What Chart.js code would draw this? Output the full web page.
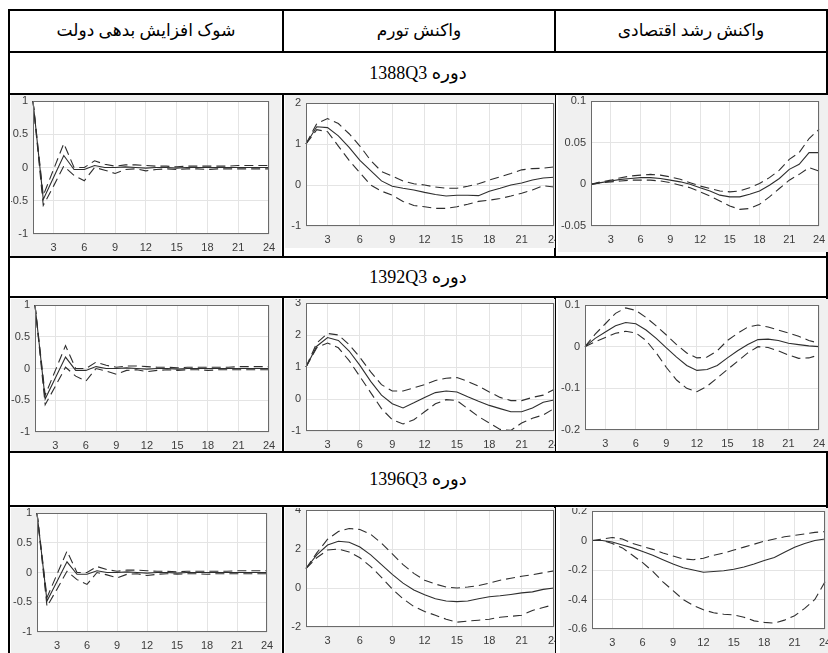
<!DOCTYPE html>
<html>
<head>
<meta charset="utf-8">
<script src="https://cdn.jsdelivr.net/npm/chart.js@4.4.1/dist/chart.umd.min.js"></script>
<style>
  html, body { margin:0; padding:0; background:#fff; }
  #page { position:relative; width:828px; height:653px; overflow:hidden; background:#fff; }
  .hl { position:absolute; height:2px; background:#000; }
  .vl { position:absolute; width:2px; background:#000; }
  .txt { position:absolute; text-align:center; font-family:"Liberation Serif","DejaVu Sans",serif; font-size:17px; color:#000; white-space:nowrap; }
  canvas { display:block; }
</style>
</head>
<body>
<div id="page"></div>
<script>
// ---------- data ----------
const horizon = [1,2,3,4,5,6,7,8,9,10,11,12,13,14,15,16,17,18,19,20,21,22,23,24];
const xTicks = [3,6,9,12,15,18,21,24];
const columnHeaders = ['شوک افزایش بدهی دولت', 'واکنش تورم', 'واکنش رشد اقتصادی'];
const periodLabels = ['1388Q3', '1392Q3', '1396Q3'];
const periodWord = 'دوره';

// debt shock (same in all periods)
const debtTicks = [-1, -0.5, 0, 0.5, 1];
const debtMedian = [1, -0.48, -0.15, 0.18, -0.03, -0.03, 0.03, 0.0, 0.0, 0.01, 0.0, -0.01, 0.0, 0.0, -0.01, 0.0, 0.0, 0.0, 0.0, 0.0, 0.0, 0.0, 0.0, 0.0];
const debtUpper  = [1, -0.42, -0.03, 0.36, 0.0, 0.0, 0.1, 0.05, 0.02, 0.04, 0.04, 0.03, 0.02, 0.02, 0.01, 0.02, 0.02, 0.02, 0.02, 0.02, 0.03, 0.03, 0.03, 0.03];
const debtLower  = [1, -0.57, -0.28, 0.02, -0.12, -0.2, 0.0, -0.04, -0.09, -0.03, -0.02, -0.05, -0.03, -0.02, -0.03, -0.02, -0.02, -0.03, -0.02, -0.02, -0.02, -0.02, -0.02, -0.02];

// inflation 1388Q3
const infl1388Ticks = [-1, 0, 1, 2];
const infl1388Median = [1.0, 1.42, 1.4, 1.2, 0.92, 0.6, 0.35, 0.1, -0.03, -0.08, -0.12, -0.18, -0.23, -0.27, -0.25, -0.25, -0.26, -0.15, -0.08, 0.0, 0.05, 0.12, 0.17, 0.19];
const infl1388Upper  = [1.0, 1.5, 1.62, 1.5, 1.25, 0.95, 0.6, 0.33, 0.22, 0.1, 0.03, 0.0, -0.05, -0.08, -0.08, -0.03, 0.03, 0.12, 0.2, 0.28, 0.37, 0.4, 0.41, 0.44];
const infl1388Lower  = [1.0, 1.35, 1.3, 0.95, 0.6, 0.3, 0.0, -0.15, -0.25, -0.4, -0.5, -0.53, -0.57, -0.57, -0.53, -0.47, -0.4, -0.37, -0.33, -0.27, -0.2, -0.12, -0.02, -0.05];

// growth 1388Q3
const growth1388Ticks = [-0.05, 0, 0.05, 0.1];
const growth1388Median = [0, 0.002, 0.004, 0.006, 0.007, 0.008, 0.008, 0.007, 0.005, 0.003, 0.0, -0.004, -0.008, -0.013, -0.015, -0.015, -0.012, -0.008, -0.001, 0.007, 0.018, 0.024, 0.038, 0.038];
const growth1388Upper  = [0, 0.003, 0.005, 0.008, 0.01, 0.011, 0.012, 0.011, 0.009, 0.006, 0.002, -0.002, -0.005, -0.008, -0.009, -0.008, -0.004, 0.001, 0.008, 0.017, 0.03, 0.038, 0.055, 0.066];
const growth1388Lower  = [0, 0.002, 0.003, 0.004, 0.005, 0.005, 0.005, 0.004, 0.002, -0.001, -0.004, -0.009, -0.014, -0.02, -0.026, -0.03, -0.029, -0.024, -0.015, -0.005, 0.005, 0.012, 0.02, 0.016];

// inflation 1392Q3
const infl1392Ticks = [-1, 0, 1, 2, 3];
const infl1392Median = [1.0, 1.65, 1.92, 1.83, 1.5, 1.05, 0.55, 0.12, -0.15, -0.28, -0.12, 0.05, 0.2, 0.25, 0.22, 0.07, -0.07, -0.2, -0.3, -0.4, -0.4, -0.28, -0.1, -0.03];
const infl1392Upper  = [1.0, 1.75, 2.05, 2.0, 1.7, 1.3, 0.85, 0.45, 0.25, 0.25, 0.35, 0.45, 0.58, 0.65, 0.67, 0.55, 0.4, 0.22, 0.05, -0.05, -0.05, 0.05, 0.12, 0.3];
const infl1392Lower  = [1.0, 1.6, 1.75, 1.6, 1.2, 0.7, 0.2, -0.3, -0.65, -0.78, -0.65, -0.4, -0.15, -0.02, -0.05, -0.3, -0.55, -0.75, -0.95, -0.98, -0.75, -0.6, -0.5, -0.3];

// growth 1392Q3
const growth1392Ticks = [-0.2, -0.1, 0, 0.1];
const growth1392Median = [0, 0.02, 0.035, 0.05, 0.058, 0.055, 0.04, 0.02, -0.003, -0.025, -0.045, -0.057, -0.055, -0.045, -0.027, -0.01, 0.005, 0.017, 0.018, 0.015, 0.008, 0.005, 0.002, 0.0];
const growth1392Upper  = [0, 0.03, 0.055, 0.08, 0.093, 0.087, 0.07, 0.05, 0.028, 0.005, -0.015, -0.027, -0.025, -0.01, 0.015, 0.032, 0.047, 0.052, 0.047, 0.04, 0.033, 0.025, 0.015, 0.008];
const growth1392Lower  = [0, 0.012, 0.022, 0.032, 0.037, 0.033, 0.015, -0.015, -0.05, -0.08, -0.1, -0.108, -0.095, -0.075, -0.055, -0.035, -0.015, 0.0, -0.002, -0.01, -0.02, -0.028, -0.027, -0.02];

// inflation 1396Q3
const infl1396Ticks = [-2, 0, 2, 4];
const infl1396Median = [1.0, 1.7, 2.2, 2.4, 2.35, 2.1, 1.7, 1.2, 0.7, 0.25, -0.1, -0.35, -0.55, -0.67, -0.7, -0.67, -0.55, -0.45, -0.4, -0.33, -0.25, -0.2, -0.07, 0.0];
const infl1396Upper  = [1.0, 1.8, 2.5, 2.9, 3.05, 3.0, 2.75, 2.3, 1.75, 1.2, 0.75, 0.4, 0.2, 0.05, 0.0, 0.05, 0.12, 0.25, 0.4, 0.5, 0.6, 0.68, 0.78, 0.88];
const infl1396Lower  = [1.0, 1.55, 1.95, 2.0, 1.85, 1.55, 1.1, 0.55, -0.05, -0.55, -0.95, -1.2, -1.4, -1.6, -1.75, -1.7, -1.65, -1.6, -1.5, -1.45, -1.4, -1.15, -1.0, -0.85];

// growth 1396Q3
const growth1396Ticks = [-0.6, -0.4, -0.2, 0, 0.2];
const growth1396Median = [0, 0.0, -0.01, -0.03, -0.05, -0.075, -0.1, -0.13, -0.16, -0.185, -0.2, -0.215, -0.21, -0.205, -0.195, -0.18, -0.16, -0.135, -0.115, -0.08, -0.045, -0.02, 0.0, 0.01];
const growth1396Upper  = [0, 0.01, 0.02, 0.01, -0.02, -0.04, -0.06, -0.085, -0.105, -0.125, -0.13, -0.12, -0.1, -0.085, -0.065, -0.045, -0.025, -0.005, 0.01, 0.025, 0.035, 0.045, 0.055, 0.06];
const growth1396Lower  = [0, 0.0, -0.02, -0.05, -0.1, -0.15, -0.21, -0.28, -0.34, -0.4, -0.44, -0.47, -0.49, -0.5, -0.505, -0.52, -0.545, -0.555, -0.56, -0.54, -0.51, -0.46, -0.4, -0.28];

// ---------- layout ----------
const page = document.getElementById('page');
const L = 9, R = 827, V1 = 283, V2 = 555;
const H = [10, 52, 94, 257, 297, 452, 506];

function hline(y, x1, x2) { const d = document.createElement('div'); d.className = 'hl'; d.style.left = x1 + 'px'; d.style.top = (y - 1) + 'px'; d.style.width = (x2 - x1 + 1) + 'px'; page.appendChild(d); }
function vline(x, y1, y2) { const d = document.createElement('div'); d.className = 'vl'; d.style.left = (x - 1) + 'px'; d.style.top = (y1 - 1) + 'px'; d.style.height = (y2 - y1 + 1) + 'px'; page.appendChild(d); }
function text(str, cx, cy, dir, size) {
  const d = document.createElement('div'); d.className = 'txt'; d.textContent = str;
  if (dir) d.dir = dir;
  if (size) d.style.fontSize = size + 'px';
  d.style.left = (cx - 200) + 'px'; d.style.width = '400px'; d.style.top = (cy - 12) + 'px'; d.style.lineHeight = '24px';
  page.appendChild(d);
}

H.forEach(y => hline(y, L, R));
vline(L, H[0], 660); vline(R, H[0], 660);
[[H[0], H[1]], [H[2], H[3]], [H[4], H[5]], [H[6], 660]].forEach(([a, b]) => { vline(V1, a, b); vline(V2, a, b); });

const colCenters = [(L + V1) / 2, (V1 + V2) / 2, (V2 + R) / 2];
columnHeaders.forEach((t, i) => text(t, colCenters[i], (H[0] + H[1]) / 2, 'rtl', 17));
text(periodWord + ' ' + periodLabels[0], (L + R) / 2, (H[1] + H[2]) / 2, 'rtl', 18);
text(periodWord + ' ' + periodLabels[1], (L + R) / 2, (H[3] + H[4]) / 2, 'rtl', 18);
text(periodWord + ' ' + periodLabels[2], (L + R) / 2, (H[5] + H[6]) / 2, 'rtl', 18);

// chart panels: canvas box [x,y,w,h], plot box [l,t,r,b]
const panels = [
  { box:[11, 95, 270, 161],  plot:[33, 101, 269, 234], ticks:debtTicks,      s:[debtMedian, debtUpper, debtLower] },
  { box:[285, 95, 270, 153], plot:[306, 103, 554, 226], ticks:infl1388Ticks,  s:[infl1388Median, infl1388Upper, infl1388Lower] },
  { box:[558, 95, 270, 157], plot:[591, 101, 819, 226], ticks:growth1388Ticks,s:[growth1388Median, growth1388Upper, growth1388Lower] },
  { box:[11, 299, 270, 152], plot:[35, 305, 269, 432], ticks:debtTicks,      s:[debtMedian, debtUpper, debtLower] },
  { box:[285, 299, 270, 152],plot:[306, 303, 554, 431], ticks:infl1392Ticks,  s:[infl1392Median, infl1392Upper, infl1392Lower] },
  { box:[558, 299, 270, 152],plot:[585, 305, 819, 430], ticks:growth1392Ticks,s:[growth1392Median, growth1392Upper, growth1392Lower] },
  { box:[11, 508, 270, 150], plot:[37, 513, 267, 632], ticks:debtTicks,      s:[debtMedian, debtUpper, debtLower] },
  { box:[285, 508, 270, 150],plot:[306, 510, 554, 627], ticks:infl1396Ticks,  s:[infl1396Median, infl1396Upper, infl1396Lower] },
  { box:[560, 508, 268, 150],plot:[592, 511, 825, 629], ticks:growth1396Ticks,s:[growth1396Median, growth1396Upper, growth1396Lower] }
];

const bgPlugin = {
  id: 'matlabBg',
  beforeDraw(chart) {
    const { ctx, chartArea: a } = chart;
    ctx.save();
    ctx.fillStyle = '#f0f0f0'; ctx.fillRect(0, 0, chart.width, chart.height);
    ctx.fillStyle = '#ffffff'; ctx.fillRect(a.left, a.top, a.right - a.left, a.bottom - a.top);
    ctx.restore();
  },
  afterDatasetsDraw(chart) {
    const { ctx, chartArea: a } = chart;
    ctx.save();
    ctx.strokeStyle = '#6a6a6a'; ctx.lineWidth = 1;
    ctx.strokeRect(a.left + 0.5, a.top + 0.5, a.right - a.left - 1, a.bottom - a.top - 1);
    ctx.restore();
  }
};

const tickFont = { family: '"Liberation Sans", Arial, sans-serif', size: 11 };

panels.forEach(p => {
  const [bx, by, bw, bh] = p.box;
  const [pl, pt, pr, pb] = p.plot;
  const c = document.createElement('canvas');
  c.width = bw; c.height = bh;
  c.style.position = 'absolute'; c.style.left = bx + 'px'; c.style.top = by + 'px';
  c.style.width = bw + 'px'; c.style.height = bh + 'px';
  page.appendChild(c);
  const yW = pl - bx, xH = (by + bh) - pb;
  const padTop = pt - by, padRight = (bx + bw) - pr;
  const yt = p.ticks;
  const ds = (arr, dashed) => ({
    data: arr, borderColor: '#2e2e2e', borderWidth: 1.1, pointRadius: 0, tension: 0,
    borderDash: dashed ? [9, 5] : [], fill: false, clip: 4
  });
  new Chart(c, {
    type: 'line',
    data: { labels: horizon, datasets: [ds(p.s[0], false), ds(p.s[1], true), ds(p.s[2], true)] },
    options: {
      responsive: false, animation: false, devicePixelRatio: 1,
      layout: { padding: { top: padTop, right: padRight, left: 0, bottom: 0 } },
      plugins: { legend: { display: false }, tooltip: { enabled: false } },
      scales: {
        x: {
          type: 'linear', min: 1, max: 24,
          afterBuildTicks: s => { s.ticks = xTicks.map(v => ({ value: v })); },
          afterFit: s => { s.height = xH; s.paddingLeft = 0; s.paddingRight = 0; },
          grid: { color: '#e4e4e4', drawTicks: false, lineWidth: 1 },
          border: { display: false },
          ticks: { color: '#3c3c3c', font: tickFont, padding: 7, maxRotation: 0, autoSkip: false, callback: v => String(v) }
        },
        y: {
          type: 'linear', min: yt[0], max: yt[yt.length - 1],
          afterBuildTicks: s => { s.ticks = yt.map(v => ({ value: v })); },
          afterFit: s => { s.width = yW; s.paddingTop = 0; s.paddingBottom = 0; },
          grid: { color: '#e4e4e4', drawTicks: false, lineWidth: 1 },
          border: { display: false },
          ticks: { color: '#3c3c3c', font: tickFont, padding: 5, autoSkip: false, callback: v => String(v) }
        }
      }
    },
    plugins: [bgPlugin]
  });
});
</script>
</body>
</html>
